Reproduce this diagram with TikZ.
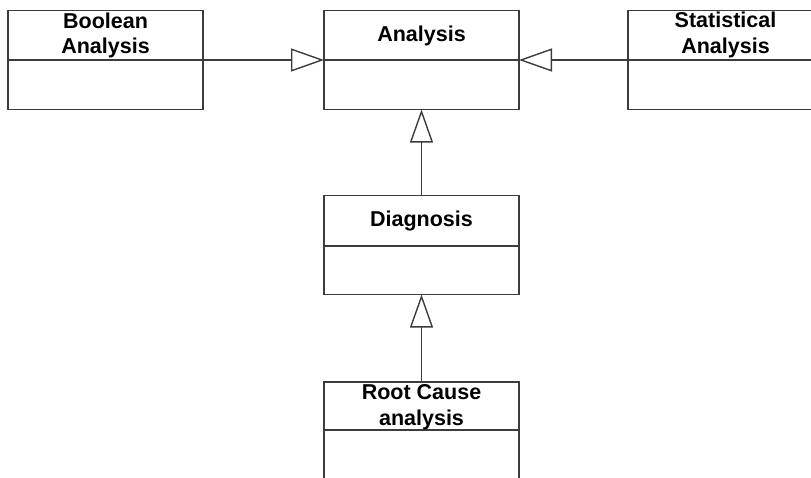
\documentclass[tikz,border=0pt]{standalone}
\usepackage{fontspec}
\setmainfont{Liberation Sans}
\usetikzlibrary{arrows.meta}
\definecolor{edge}{HTML}{3C3C3C}
\tikzset{
  classbox/.style={draw=edge, line width=1.4pt, minimum width=195pt, minimum height=99pt,
    inner sep=0pt, outer sep=0pt},
  divider/.style={draw=edge, line width=1.4pt},
  title/.style={anchor=base, inner sep=0pt, align=center,
    font=\bfseries\fontsize{21.5}{25}\selectfont},
  inherit/.style={draw=edge, line width=1.5pt,
    -{Triangle[open, length=33pt, width=23pt, line width=1.4pt]}},
}
\begin{document}
\begin{tikzpicture}[x=1pt, y=-1pt]
\useasboundingbox (0,0) rectangle (811,477);

% class boxes
\node[classbox] (bool) at (105.5,60) {};
\node[classbox] (ana)  at (421.5,60) {};
\node[classbox] (stat) at (725.5,60) {};
\node[classbox] (diag) at (421.5,245) {};
\node[classbox] (root) at (421.5,431.5) {};

% compartment dividers
\draw[divider] (bool.west |- 0,60) -- (bool.east |- 0,60);
\draw[divider] (ana.west |- 0,60) -- (ana.east |- 0,60);
\draw[divider] (stat.west |- 0,60) -- (stat.east |- 0,60);
\draw[divider] (diag.west |- 0,246) -- (diag.east |- 0,246);
\draw[divider] (root.west |- 0,430) -- (root.east |- 0,430);

% class names
\node[title] (tbool1) at (105.5,28) {Boolean};
\node[title] (tbool2) at (105.5,53) {Analysis};
\node[title] (tana)   at (421.5,41) {Analysis};
\node[title] (tstat1) at (725.5,27.5) {Statistical};
\node[title] (tstat2) at (725.5,53) {Analysis};
\node[title] (tdiag)  at (421.5,226) {Diagnosis};
\node[title] (troot1) at (421.5,399) {Root Cause};
\node[title] (troot2) at (421.5,425) {analysis};

% generalisation arrows
\draw[inherit] (bool.east) -- (ana.west);
\draw[inherit] (stat.west) -- (ana.east);
\draw[inherit] (diag.north) -- (ana.south);
\draw[inherit] (root.north) -- (diag.south);
\end{tikzpicture}
\end{document}
